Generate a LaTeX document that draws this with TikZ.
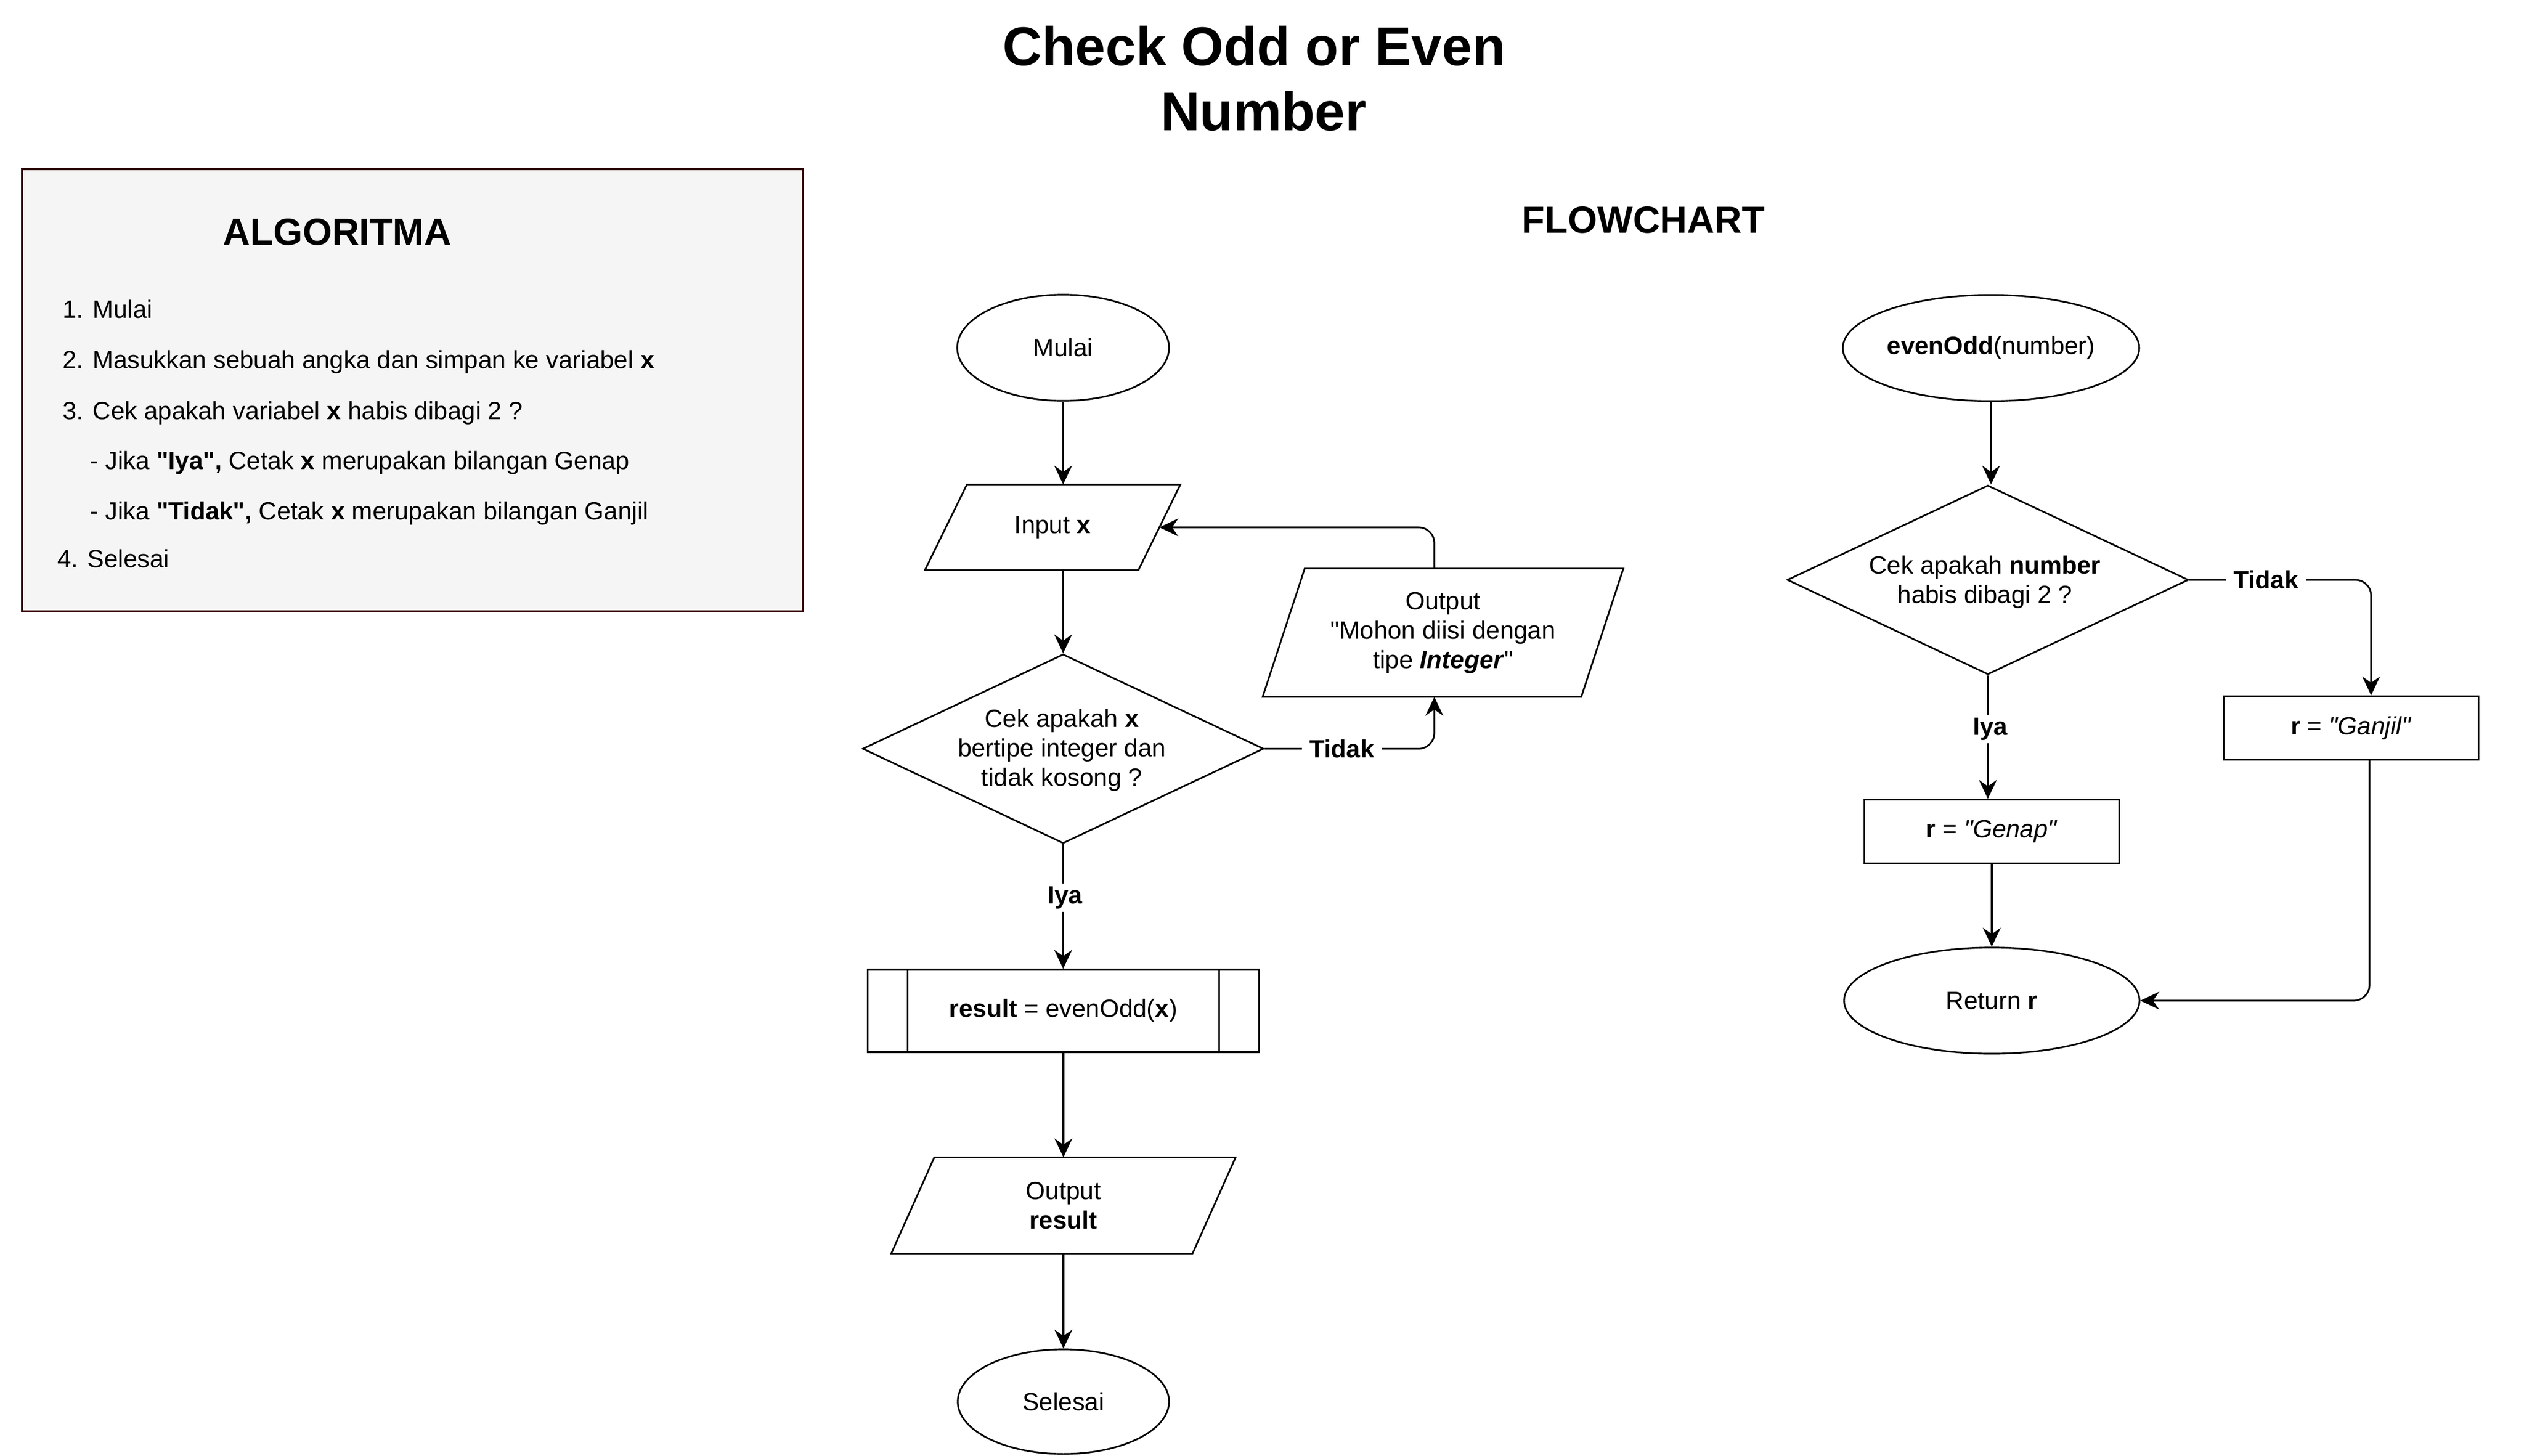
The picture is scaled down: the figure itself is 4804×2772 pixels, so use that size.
\documentclass[tikz,border=0pt]{standalone}
\usepackage{fontspec}
\setmainfont{Liberation Sans}[Ligatures=TeXOff]
\usetikzlibrary{shapes.geometric,arrows.meta}
\definecolor{boxborder}{HTML}{330000}
\definecolor{boxfill}{HTML}{F5F5F5}
\begin{document}
\begin{tikzpicture}[x=0.01cm,y=-0.01cm,
  line width=0.9pt,
  base/.style={font=\fontsize{13.5}{15.9}\selectfont, align=center, inner sep=0pt},
  term/.style={base, draw, ellipse, minimum width=4.03cm, minimum height=2.02cm},
  proc/.style={base, draw, rectangle},
  dec/.style={draw, diamond, inner sep=0pt, minimum width=7.63cm, minimum height=3.6cm},
  iobox/.style={base, rectangle, draw=none},
  lbl/.style={font=\bfseries\fontsize{13.5}{15.9}\selectfont, fill=white, inner xsep=4pt, inner ysep=1.7pt},
  arr/.style={-{Stealth[length=0.36cm,width=0.34cm,inset=0.12cm]}, rounded corners=0.3cm},
  algline/.style={font=\fontsize{13.5}{15.9}\selectfont, anchor=base west, inner sep=0pt},
  head/.style={font=\bfseries\fontsize{20.4}{24}\selectfont, anchor=base, inner sep=0pt},
  ttl/.style={font=\bfseries\fontsize{29.5}{34}\selectfont, anchor=base, inner sep=0pt},
]
\fill[white] (0,0) rectangle (4804,2772);
\useasboundingbox (0,0) rectangle (4804,2772);

% titles
\node[ttl] (title1) at (2387,124) {Check Odd or Even};
\node[ttl] (title2) at (2405,248) {Number};
\node[head] (fctitle) at (3128,443) {FLOWCHART};

% algorithm box
\node[draw=boxborder, fill=boxfill, line width=1.15pt, minimum width=14.86cm, minimum height=8.42cm, inner sep=0pt] (algbox) at (785,743) {};
\node[head] (algtitle) at (642,466) {ALGORITMA};
\node[algline] (a1) at (118,605) {1. Mulai};
\node[algline] (a2) at (118,701) {2. Masukkan sebuah angka dan simpan ke variabel \textbf{x}};
\node[algline] (a3) at (118,798) {3. Cek apakah variabel \textbf{x} habis dibagi 2 ?};
\node[algline] (a4) at (170,893) {- Jika \textbf{"Iya",} Cetak \textbf{x} merupakan bilangan Genap};
\node[algline] (a5) at (170,989) {- Jika \textbf{"Tidak",} Cetak \textbf{x} merupakan bilangan Ganjil};
\node[algline] (a6) at (108,1080) {4. Selesai};

% left flowchart
\node[term] (mulai) at (2023.5,662) {Mulai};
\node[iobox, minimum width=4.83cm, minimum height=1.6cm] (inp) at (2003.5,1004) {Input \textbf{x}};
\draw ([xshift=0.8cm]inp.north west) -- (inp.north east) -- ([xshift=-0.8cm]inp.south east) -- (inp.south west) -- cycle;
\node[dec] (dia1) at (2023.5,1425.5) {};
\node[base] (dia1t) at (2021,1428) {Cek apakah \textbf{x}\\bertipe integer dan\\tidak kosong ?};
\node[iobox, minimum width=6.83cm, minimum height=2.41cm] (mohon) at (2746.5,1204.5) {Output\\"Mohon diisi dengan\\tipe \textbf{\textit{Integer}}"};
\draw ([xshift=0.8cm]mohon.north west) -- (mohon.north east) -- ([xshift=-0.8cm]mohon.south east) -- (mohon.south west) -- cycle;
\node[proc, minimum width=7.44cm, minimum height=1.57cm] (sub) at (2024,1924.5) {\textbf{result} = evenOdd(\textbf{x})};
\draw ([xshift=0.77cm]sub.north west) -- ([xshift=0.77cm]sub.south west);
\draw ([xshift=-0.77cm]sub.north east) -- ([xshift=-0.77cm]sub.south east);
\node[iobox, minimum width=6.52cm, minimum height=1.8cm] (outres) at (2024,2295) {Output\\\textbf{result}};
\draw ([xshift=0.82cm]outres.north west) -- (outres.north east) -- ([xshift=-0.82cm]outres.south east) -- (outres.south west) -- cycle;
\node[term, minimum width=4.02cm, minimum height=1.99cm] (sel) at (2024,2668.5) {Selesai};

\draw[arr] (mulai.south) -- (mulai.south |- inp.north);
\draw[arr] (dia1.north |- inp.south) -- (dia1.north);
\draw[arr] (dia1.east) -| ([xshift=-0.165cm]mohon.south);
\node[lbl] (tidak1) at (2554,1426) {Tidak};
\draw[arr] ([xshift=-0.165cm]mohon.north) |- ([xshift=-0.4cm]inp.east);
\draw[arr] (dia1.south) -- (dia1.south |- sub.north);
\node[lbl] (iya1) at (2027,1709) {Iya};
\draw[arr] (sub.south) -- (outres.north);
\draw[arr] (outres.south) -- (sel.north);

% right flowchart
\node[term, minimum width=5.64cm] (eo) at (3789.6,662.5) {\textbf{evenOdd}(number)};
\node[dec] (dia2) at (3783.5,1104) {};
\node[base] (dia2t) at (3778,1108) {Cek apakah \textbf{number}\\habis dibagi 2 ?};
\node[proc, minimum width=4.84cm, minimum height=1.21cm] (genap) at (3791,1583) {\textbf{r} = \textit{"Genap"}};
\node[proc, minimum width=4.84cm, minimum height=1.21cm] (ganjil) at (4475,1386) {\textbf{r} = \textit{"Ganjil"}};
\node[term, minimum width=5.62cm] (ret) at (3791,1905) {Return \textbf{r}};

\draw[arr] (eo.south) -- (eo.south |- dia2.north);
\draw[arr] (dia2.east) -| ([xshift=0.38cm]ganjil.north);
\node[lbl] (tidak2) at (4313,1104) {Tidak};
\draw[arr] (dia2.south) -- (dia2.south |- genap.north);
\node[lbl] (iya2) at (3788,1388) {Iya};
\draw[arr] (genap.south) -- (genap.south |- ret.north);
\draw[arr] ([xshift=0.35cm]ganjil.south) |- (ret.east);
\end{tikzpicture}
\end{document}
